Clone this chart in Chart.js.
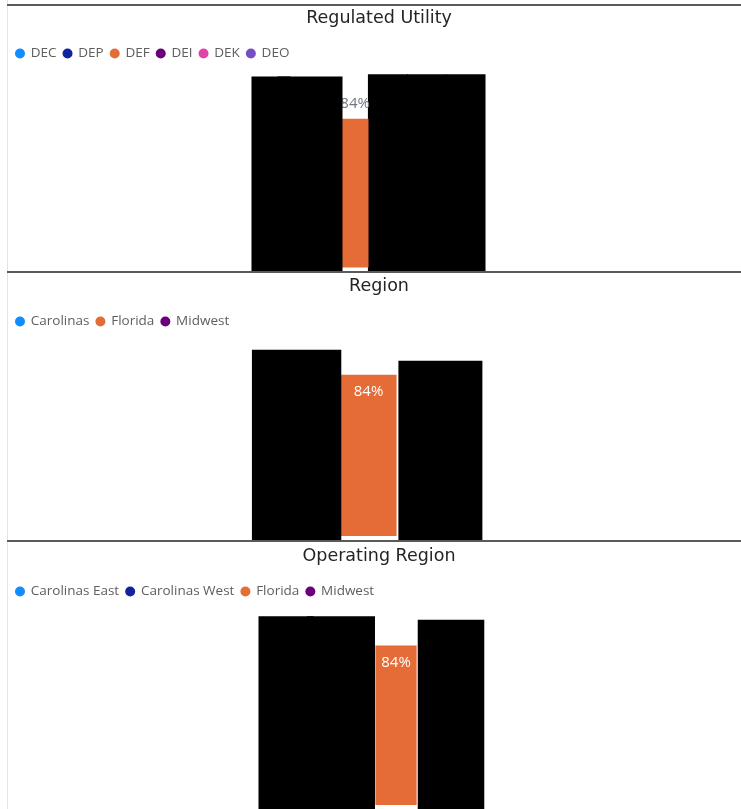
<!DOCTYPE html>
<html>
<head>
<meta charset="utf-8">
<script src="https://cdn.jsdelivr.net/npm/chart.js@4.4.1/dist/chart.umd.min.js"></script>
<style>
  html, body { margin: 0; padding: 0; background: #fff; width: 741px; height: 809px; overflow: hidden; position: relative; }
  .edge { position: absolute; left: 7px; top: 0; width: 1px; height: 809px; background: #e3e3e3; }
  .rule { position: absolute; left: 7px; width: 734px; height: 2px; background: #5a5a5a; }
  canvas { position: absolute; left: 9px; }
</style>
</head>
<body>
<div class="edge"></div>
<div class="rule" style="top:4px"></div>
<canvas id="utilityChart" width="740" height="265" style="top:6px"></canvas>
<div class="rule" style="top:271px"></div>
<canvas id="regionChart" width="740" height="266" style="top:274px"></canvas>
<div class="rule" style="top:540px"></div>
<canvas id="opRegionChart" width="740" height="265" style="top:544px"></canvas>
<script>
// percent values; every series except Florida / DEF is blacked out in the source
const utilityNames = ["DEC", "DEP", "DEF", "DEI", "DEK", "DEO"];
const utilityValues = [108, 108, 84, 109.2, 109.2, 109.2];

const regionNames = ["Carolinas", "Florida", "Midwest"];
const regionValues = [97.1, 84, 91.4];

const opRegionNames = ["Carolinas East", "Carolinas West", "Florida", "Midwest"];
const opRegionValues = [99.4, 99.4, 84, 97.6];

const seriesColors = {
  "DEC": "#118DFF", "DEP": "#12239E", "DEF": "#E66C37",
  "DEI": "#6B007B", "DEK": "#E044A7", "DEO": "#744EC2",
  "Carolinas": "#118DFF", "Carolinas East": "#118DFF", "Carolinas West": "#12239E",
  "Florida": "#E66C37", "Midwest": "#6B007B"
};

// draws the "84%" data label right after its own bar, so later (blacked) bars sit on top
const valueLabels = {
  id: "valueLabels",
  afterDatasetDraw(chart, args, opts) {
    if (args.index !== opts.index) return;
    const bar = args.meta.data[0];
    const ctx = chart.ctx;
    const text = chart.data.datasets[args.index].data[0] + "%";
    ctx.save();
    ctx.font = '15px "Open Sans"';
    ctx.textAlign = "center";
    ctx.textBaseline = "middle";
    const fits = ctx.measureText(text).width + 8 < bar.width;
    if (fits) {
      ctx.fillStyle = "#ffffff";
      ctx.fillText(text, bar.x, bar.y + 17);
    } else {
      ctx.fillStyle = "#6f7780";
      ctx.fillText(text, bar.x, bar.y - 15);
    }
    ctx.restore();
  }
};

function makePanel(id, title, names, values, shown, yMin, yMax, widths) {
  const ctx = document.getElementById(id);
  new Chart(ctx, {
    type: "bar",
    data: {
      labels: [title],
      datasets: names.map((name, i) => ({
        label: name,
        data: [i === shown ? values[i] : [yMin, values[i]]],
        backgroundColor: i === shown ? seriesColors[name] : "#000000",
        borderWidth: 0,
        categoryPercentage: widths[i][0],
        barPercentage: widths[i][1],
      })),
    },
    options: {
      responsive: false,
      animation: false,
      events: [],
      layout: { padding: 0 },
      plugins: {
        title: {
          display: true,
          text: title,
          color: "#252423",
          font: { family: "DejaVu Sans", size: 17.5, weight: "normal" },
          padding: { top: 1.5, bottom: 11.2 },
        },
        legend: {
          position: "top",
          align: "start",
          labels: {
            usePointStyle: true,
            pointStyle: "circle",
            boxWidth: 8,
            boxHeight: 7.07,
            padding: 7,
            color: "#605E5C",
            font: { family: "Open Sans", size: 13.5 },
            generateLabels(chart) {
              const items = Chart.defaults.plugins.legend.labels.generateLabels(chart);
              items.forEach((it) => {
                it.fillStyle = seriesColors[it.text];
                it.strokeStyle = seriesColors[it.text];
                it.lineWidth = 0;
              });
              return items;
            },
          },
        },
        tooltip: { enabled: false },
        valueLabels: { index: shown },
      },
      scales: {
        x: { display: false },
        y: {
          position: "right",
          min: yMin,
          max: yMax,
          grid: { display: false },
          border: { display: false },
          ticks: { display: false },
          afterFit(scale) { scale.width = 21; },
        },
      },
    },
    plugins: [valueLabels],
  });
}

makePanel("utilityChart", "Regulated Utility", utilityNames, utilityValues, 2, -1.97, 111.5,
  [[0.3255, 1.0], [0.3255, 1.667], [0.2236, 1.0], [0.3255, 1.03], [0.3255, 1.03], [0.3255, 1.0]]);
makePanel("regionChart", "Region", regionNames, regionValues, 1, -2.08, 103.1,
  [[0.3, 1.243], [0.3, 0.78], [0.3, 1.168]]);
makePanel("opRegionChart", "Operating Region", opRegionNames, opRegionValues, 2, -2.1, 103.7,
  [[0.306, 1.0], [0.306, 1.236], [0.306, 0.75], [0.306, 1.21]]);
</script>
</body>
</html>
